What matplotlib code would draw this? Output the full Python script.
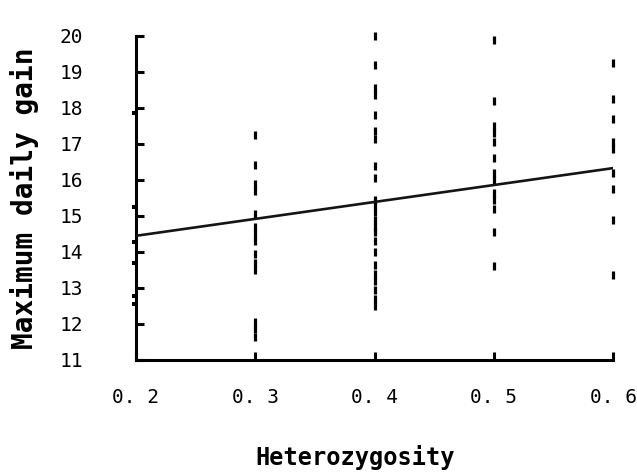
import matplotlib
matplotlib.use("Agg")
import matplotlib.pyplot as plt
from matplotlib.transforms import ScaledTranslation

# readings per heterozygosity level (maximum daily gain)
het_levels = [0.2, 0.3, 0.4, 0.5, 0.6]
gain_02 = [17.85, 15.26, 14.27, 13.69, 12.79, 12.55]
gain_03 = [17.25, 16.42, 15.9, 15.7, 15.05, 14.7, 14.5, 14.3, 13.95, 13.7, 13.5,
           12.05, 11.85, 11.65]
gain_04 = [20.0, 19.2, 18.55, 18.35, 17.8, 17.35, 17.15, 16.4, 16.05, 15.45, 15.3,
           15.1, 14.9, 14.7, 14.55, 14.3, 14.0, 13.65, 13.4, 13.2, 12.95, 12.7, 12.5]
gain_05 = [19.9, 18.2, 17.5, 17.3, 17.05, 16.6, 16.2, 16.0, 15.65, 15.45, 15.2,
           14.55, 13.6]
gain_06 = [19.25, 18.25, 17.7, 17.05, 16.85, 16.2, 15.75, 14.9, 13.35]
columns = [gain_02, gain_03, gain_04, gain_05, gain_06]

# fitted regression line end points
fit_x = [0.2, 0.6]
fit_y = [14.45, 16.33]

yticks = list(range(11, 21))
xtick_labels = ["0. 2", "0. 3", "0. 4", "0. 5", "0. 6"]

MONO = "DejaVu Sans Mono"

fig = plt.figure(figsize=(6.37, 4.73), dpi=100)
ax = fig.add_axes([136 / 637, 1 - 360 / 473, 477 / 637, 324 / 473])

for x, ys in zip(het_levels[1:], columns[1:]):
    ax.plot([x] * len(ys), ys, ls="none", marker="|", ms=5.5, mew=2.3,
            color="black", clip_on=False, zorder=2)
# points on the y axis sit just left of the spine
shift = ax.transData + ScaledTranslation(-2 / 100, 0, fig.dpi_scale_trans)
ax.plot([het_levels[0]] * len(gain_02), gain_02, ls="none", marker="s", ms=3.4,
        color="black", mew=0, clip_on=False, zorder=4, transform=shift)
ax.plot(fit_x, fit_y, color="#141414", lw=1.9, zorder=3)

ax.set_xlim(0.2, 0.6)
ax.set_ylim(11, 20)
ax.set_xticks(het_levels)
ax.set_xticklabels(xtick_labels, fontfamily=MONO, fontsize=14)
ax.set_yticks(yticks)
ax.set_yticklabels([str(v) for v in yticks], fontfamily=MONO, fontsize=14)
ax.tick_params(axis="x", direction="in", length=6, width=2.2, pad=20)
ax.tick_params(axis="y", direction="in", length=6, width=2.2, pad=38)

for s in ("top", "right"):
    ax.spines[s].set_visible(False)
for s in ("left", "bottom"):
    ax.spines[s].set_linewidth(2.2)

ax.set_xlabel("Heterozygosity", fontfamily=MONO, fontsize=17, fontweight="bold")
ax.set_ylabel("Maximum daily gain", fontfamily=MONO, fontsize=20, fontweight="bold")
ax.xaxis.set_label_coords(0.459, -0.30)
ax.yaxis.set_label_coords(-0.233, 0.5)
ax.xaxis.label.set_va("center")
ax.yaxis.label.set_va("center")

fig.savefig("out.png", dpi=100)
